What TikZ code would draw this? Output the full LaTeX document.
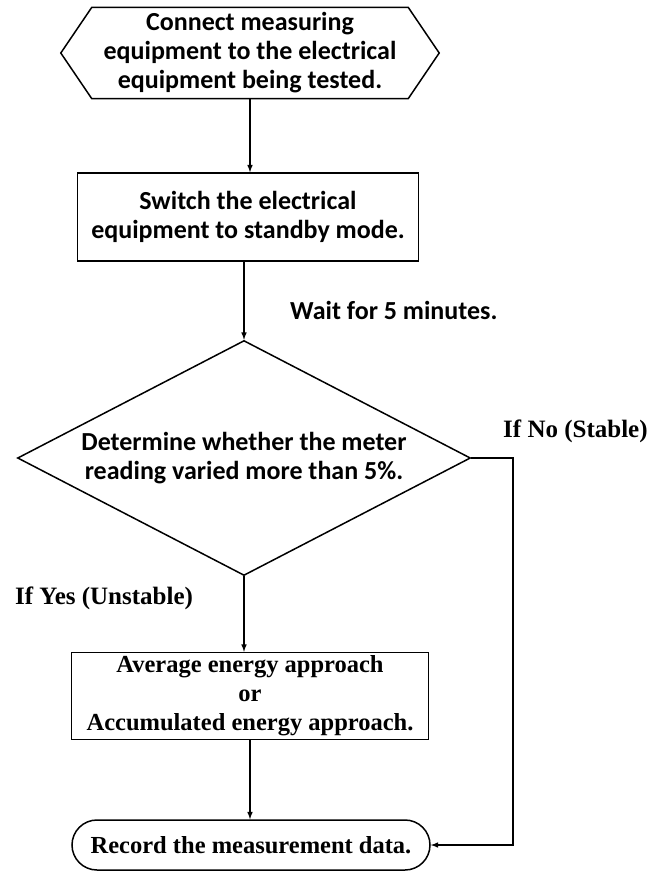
\documentclass[tikz,border=0pt]{standalone}
\usepackage{fontspec}
\setmainfont{Liberation Serif}
\setsansfont{Carlito}
\usetikzlibrary{arrows,shapes,positioning}
\tikzstyle{every node}=[inner sep=0pt, align=center]
\tikzset{
    line/.style={
                line width=1.5pt,
                line join=miter
            },
    arrow/.style={
                line width=1.5pt,
                -latex
            },
    prep/.style={
                font=\sffamily\bfseries\fontsize{26}{29}\selectfont,
                minimum width=316pt,
                minimum height=91pt
            },
    process/.style={
                draw,
                line width=1.5pt,
                font=\sffamily\bfseries\fontsize{26}{29}\selectfont,
                minimum width=341pt,
                minimum height=88pt
            },
    decision/.style={
                draw,
                diamond,
                aspect=1.93,
                line width=1.5pt,
                font=\sffamily\bfseries\fontsize{26}{29}\selectfont,
                minimum width=453pt,
                minimum height=235pt
            },
    approach/.style={
                draw,
                line width=1.5pt,
                font=\rmfamily\bfseries\fontsize{24.5}{29}\selectfont,
                minimum width=357pt,
                minimum height=87pt
            },
    terminal/.style={
                draw,
                rounded rectangle,
                line width=1.5pt,
                font=\rmfamily\bfseries\fontsize{24.5}{29}\selectfont,
                minimum width=358pt,
                minimum height=50pt
            },
    note/.style={
                anchor=west,
                font=\sffamily\bfseries\fontsize{26}{29}\selectfont
            },
    branch/.style={
                anchor=west,
                font=\rmfamily\bfseries\fontsize{25}{29}\selectfont
            }
}
\begin{document}
\begin{tikzpicture}[x=1pt,y=-1pt]
  \useasboundingbox (0,0) rectangle (654,871);
  % Steps
  \node[prep] (connect) at (250,53) {Connect measuring\\equipment to the electrical\\equipment being tested.};
  \draw[line] (connect.north west) -- (connect.north east) -- ([xshift=31pt]connect.east)
    -- (connect.south east) -- (connect.south west) -- ([xshift=-31pt]connect.west) -- cycle;
  \node[process] (switch) at (248,217) {Switch the electrical\\equipment to standby mode.};
  \node[decision] (decide) at (244,458) {Determine whether the meter\\reading varied more than 5\%.};
  \node[approach] (average) at (250,696) {Average energy approach\\or\\Accumulated energy approach.};
  \node[terminal] (record) at (251,845) {Record the measurement data.};
  % Labels
  \node[note] (wait) at (290,310) {Wait for 5 minutes.};
  \node[branch] (nolabel) at (503,431) {If No (Stable)};
  \node[branch] (yeslabel) at (15,598) {If Yes (Unstable)};
  % Connectors
  \coordinate (bend) at (513,845);
  \draw[arrow] (connect.south) -- (connect.south |- switch.north);
  \draw[arrow] (decide.north |- switch.south) -- (decide.north);
  \draw[arrow] (decide.south) -- (decide.south |- average.north);
  \draw[arrow] (average.south) -- (average.south |- record.north);
  \draw[arrow] (decide.east) -| (bend) -- (record.east);
\end{tikzpicture}
\end{document}
